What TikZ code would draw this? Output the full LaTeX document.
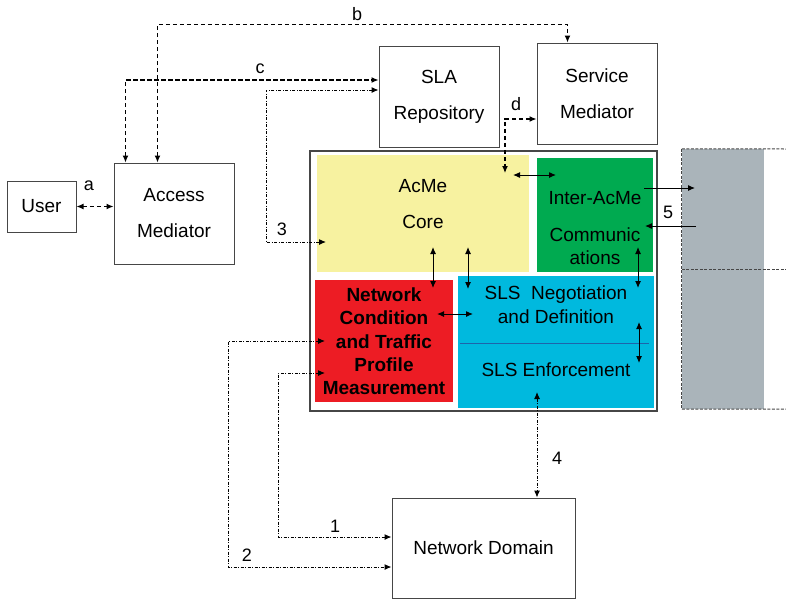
\documentclass[tikz,border=0pt]{standalone}
\usepackage{fontspec}
\setmainfont{Liberation Sans}
\usetikzlibrary{arrows.meta}

\definecolor{coreyellow}{RGB}{247,242,160}
\definecolor{commgreen}{RGB}{0,170,80}
\definecolor{measred}{RGB}{237,28,36}
\definecolor{slsblue}{RGB}{0,185,222}
\definecolor{splitblue}{RGB}{30,100,170}
\definecolor{peergray}{RGB}{170,180,186}
\definecolor{framegray}{RGB}{70,70,70}

\tikzset{
  blk/.style={draw=framegray, line width=1pt, align=center, inner sep=0pt, font=\fontsize{19}{36}\selectfont},
  area/.style={draw=none, inner sep=0pt},
  txt/.style={align=center, inner sep=0pt, font=\fontsize{19}{36}\selectfont},
  lbl/.style={inner sep=0pt, font=\fontsize{18}{20}\selectfont},
  tips/.style={{Latex[length=7pt,width=6pt]}-{Latex[length=7pt,width=6pt]}},
  tip/.style={-{Latex[length=7pt,width=6pt]}},
  dashln/.style={line width=1.2pt, dash pattern=on 4.5pt off 2.5pt},
  dotdash/.style={line width=1pt, dash pattern=on 3pt off 1.5pt on 1pt off 1.5pt},
  solidln/.style={line width=1pt},
  peerln/.style={draw=framegray, line width=1pt, dash pattern=on 3pt off 1.5pt},
}

\begin{document}
\begin{tikzpicture}[x=1pt,y=-1pt]
	\useasboundingbox (0,0) rectangle (786,600);

	% outside blocks
	\node[blk, minimum width=69pt, minimum height=51pt] (user) at (41.5,206.5) {User};
	\node[blk, minimum width=120pt, minimum height=101pt] (access) at (174,213.5) {Access\\Mediator};
	\node[blk, minimum width=120pt, minimum height=101pt] (sla) at (439,96.5) {SLA\\Repository};
	\node[blk, minimum width=120pt, minimum height=101pt] (svc) at (597,93.5) {Service\\Mediator};
	\node[blk, minimum width=183pt, minimum height=100pt] (netdom) at (483.5,548) {Network Domain};

	% AcMe
	\node[blk, line width=1.3pt, minimum width=347pt, minimum height=260pt] (acme) at (483.5,281) {};
	\node[area, fill=coreyellow, minimum width=212pt, minimum height=117pt] (core) at (423,213.5) {};
	\node[area, fill=commgreen, minimum width=116pt, minimum height=114pt] (comm) at (595,215) {};
	\node[area, fill=measred, minimum width=138pt, minimum height=122pt] (meas) at (384,341) {};
	\node[area, fill=slsblue, minimum width=196pt, minimum height=132pt] (sls) at (556,342) {};
	\draw[splitblue, line width=0.8pt] ([xshift=2pt,yshift=-1pt]sls.west) -- ([xshift=-5pt,yshift=-1pt]sls.east);

	\node[txt] (coretxt) at (423,204) {AcMe\\Core};
	\node[txt, font=\fontsize{19}{23}\selectfont] (commtxt) at (595,228) {Inter-AcMe\\[14pt]Communic\\ations};
	\node[txt, font=\bfseries\fontsize{19}{23.3}\selectfont] (meastxt) at (384,341.5) {Network\\Condition\\and Traffic\\Profile\\Measurement};
	\node[txt, font=\fontsize{19}{24}\selectfont] (negtxt) at (556,305) {SLS~ Negotiation\\and Definition};
	\node[txt] (enftxt) at (556,370) {SLS Enforcement};

	% neighbour AcMe
	\node[area, fill=peergray, minimum width=82pt, minimum height=260pt] (peer) at (723,279) {};
	\coordinate (pt) at (786,149);
	\coordinate (pm) at (786,269);
	\coordinate (pb) at (786,409);
	\draw[peerln] (peer.north west) -- (peer.south west);
	\draw[peerln] (peer.north west) -- (pt);
	\draw[peerln] (peer.west |- pm) -- (pm);
	\draw[peerln] (peer.south west) -- (pb);

	% end points
	\coordinate (dend) at (505,173);
	\coordinate (p3) at (326,242);
	\coordinate (m1) at (325,373);
	\coordinate (m2) at (325,341);
	\coordinate (e4) at (537,392);
	\coordinate (yg1) at (513,175);
	\coordinate (yg2) at (556,175);
	\coordinate (go1) at (644,188);
	\coordinate (go2) at (695,188);
	\coordinate (gi1) at (696,226);
	\coordinate (gi2) at (645,226);

	% dashed links
	\draw[dashln, tips] (user.east) -- (user.east -| access.west);
	\draw[dashln, tips] ([xshift=44pt]access.north west) -- ++(0,-138) -| ([xshift=31pt]svc.north west);
	\draw[dashln, tips] ([xshift=12pt]access.north west) |- ([yshift=16.5pt]sla.west);
	\draw[dashln, tips] ([yshift=-25.5pt]svc.west) -| (dend);

	% dash dot links
	\draw[dotdash, tips] ([yshift=6.5pt]sla.west) -| ([xshift=-60pt]p3) -- (p3);
	\draw[dotdash, tips] (e4) -- (e4 |- netdom.north);
	\draw[dotdash, tips] (m1) -- ++(-47,0) |- ([yshift=11pt]netdom.west);
	\draw[dotdash, tips] (m2) -- ++(-97,0) |- ([yshift=-19pt]netdom.west);

	% inner links
	\draw[solidln, tips] (yg1) -- (yg2);
	\draw[solidln, tips] (433,247) -- (433,288);
	\draw[solidln, tips] (468,247) -- (468,289);
	\draw[solidln, tips] (638,247) -- (638,288);
	\draw[solidln, tips] (437,314) -- (473,314);
	\draw[solidln, tips] (639,322) -- (639,363);
	\draw[solidln, tip] (go1) -- (go2);
	\draw[solidln, tip] (gi1) -- (gi2);

	% labels
	\node[lbl] (la) at (89,186) {a};
	\node[lbl] (lb) at (357,14) {b};
	\node[lbl] (lc) at (260,69) {c};
	\node[lbl] (ld) at (516,104) {d};
	\node[lbl] (l1) at (335,526) {1};
	\node[lbl] (l2) at (247,555) {2};
	\node[lbl] (l3) at (282,229) {3};
	\node[lbl] (l4) at (557,458) {4};
	\node[lbl] (l5) at (668,212) {5};
\end{tikzpicture}
\end{document}
